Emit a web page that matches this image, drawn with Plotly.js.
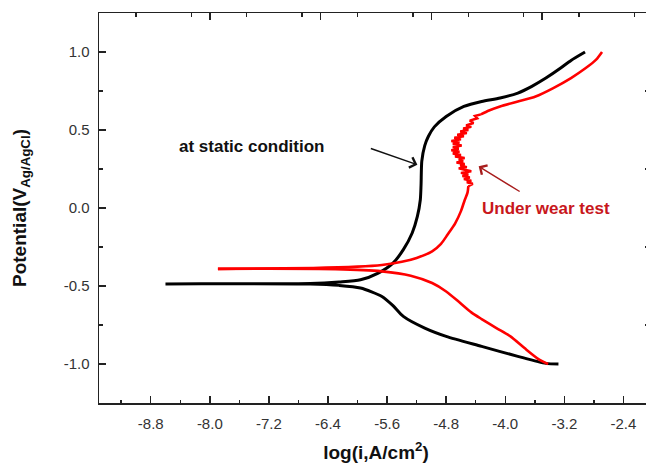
<!DOCTYPE html>
<html>
<head>
<meta charset="utf-8">
<script src="https://cdn.plot.ly/plotly-3.0.1.min.js"></script>
<style>
html,body{margin:0;padding:0;overflow:hidden;background:#fff;width:646px;height:463px;}
#chart{width:653px;height:463px;}
</style>
</head>
<body>
<div id="chart"></div>
<script>
// Static condition (black): cathodic branch (from -1.0 V toward Ecorr), then anodic branch
const staticCathX = [-3.28, -3.45, -3.83, -4.32, -4.80, -5.09, -5.38, -5.52, -5.67, -5.96, -6.25, -6.64, -7.70, -8.60];
const staticCathY = [-1.000, -0.996, -0.951, -0.887, -0.823, -0.770, -0.695, -0.626, -0.567, -0.513, -0.496, -0.487, -0.485, -0.487];
const staticAnodX = [-8.60, -7.70, -6.64, -6.25, -5.96, -5.72, -5.52, -5.38, -5.26, -5.19, -5.15, -5.14, -5.13, -5.09, -5.04, -4.96, -4.80, -4.56, -4.32, -4.07, -3.83, -3.64, -3.45, -3.25, -3.11, -2.92];
const staticAnodY = [-0.487, -0.485, -0.484, -0.474, -0.460, -0.417, -0.353, -0.267, -0.160, -0.054, 0.053, 0.150, 0.300, 0.400, 0.460, 0.520, 0.587, 0.651, 0.683, 0.705, 0.737, 0.780, 0.833, 0.897, 0.946, 1.000];

// Under wear test (red): cathodic branch, then anodic branch in three parts (smooth, noisy, smooth)
const wearCathX = [-3.42, -3.54, -3.74, -3.93, -4.12, -4.32, -4.46, -4.61, -4.80, -4.99, -5.28, -5.67, -6.30, -7.89];
const wearCathY = [-1.000, -0.972, -0.898, -0.823, -0.770, -0.712, -0.669, -0.609, -0.535, -0.481, -0.434, -0.406, -0.392, -0.390];
const wearLowX = [-7.89, -6.60, -6.00, -5.67, -5.40, -5.20, -4.99, -4.87, -4.78, -4.68, -4.60, -4.55, -4.51, -4.50];
const wearLowY = [-0.390, -0.385, -0.376, -0.365, -0.345, -0.320, -0.278, -0.230, -0.170, -0.100, -0.020, 0.050, 0.100, 0.140];
const wearNoiseX = [-4.50, -4.44, -4.52, -4.46, -4.56, -4.48, -4.58, -4.50, -4.60, -4.46, -4.55, -4.63, -4.52, -4.61, -4.55, -4.66, -4.57, -4.63, -4.55, -4.68, -4.60, -4.71, -4.62, -4.73, -4.63, -4.71, -4.59, -4.71, -4.62, -4.73, -4.60, -4.69, -4.56, -4.65, -4.52, -4.61, -4.50, -4.57, -4.46, -4.53, -4.43, -4.48, -4.38, -4.41, -4.33];
const wearNoiseY = [0.140, 0.155, 0.165, 0.175, 0.185, 0.195, 0.205, 0.215, 0.225, 0.235, 0.245, 0.255, 0.262, 0.272, 0.282, 0.292, 0.300, 0.310, 0.320, 0.330, 0.340, 0.350, 0.360, 0.370, 0.380, 0.390, 0.400, 0.410, 0.420, 0.430, 0.440, 0.450, 0.460, 0.470, 0.480, 0.490, 0.500, 0.510, 0.520, 0.530, 0.545, 0.560, 0.575, 0.590, 0.600];
const wearHighX = [-4.33, -4.22, -4.07, -3.83, -3.59, -3.35, -3.11, -2.91, -2.77, -2.69];
const wearHighY = [0.600, 0.625, 0.651, 0.683, 0.715, 0.769, 0.833, 0.897, 0.951, 1.000];

// Tick labels
const xTickVals = [-8.8, -8.0, -7.2, -6.4, -5.6, -4.8, -4.0, -3.2, -2.4];
const xTickText = ['-8.8', '-8.0', '-7.2', '-6.4', '-5.6', '-4.8', '-4.0', '-3.2', '-2.4'];
const yTickVals = [-1.0, -0.5, 0.0, 0.5, 1.0];
const yTickText = ['-1.0', '-0.5', '0.0', '0.5', '1.0'];

const xTitle = 'log(i,A/cm<sup>2</sup>)';
const yTitle = 'Potential(V<sub>Ag/AgCl</sub>)';
const staticLabel = 'at static condition';
const wearLabel = 'Under wear test';

const font = 'Liberation Sans, Arial, sans-serif';
const red = '#ff0000';

const traces = [
  {x: staticCathX.concat(staticAnodX), y: staticCathY.concat(staticAnodY), mode: 'lines',
   line: {color: '#000000', width: 3, shape: 'spline', smoothing: 0.7}, hoverinfo: 'skip', showlegend: false},
  {x: wearCathX, y: wearCathY, mode: 'lines',
   line: {color: red, width: 2.6, shape: 'spline', smoothing: 0.7}, hoverinfo: 'skip', showlegend: false},
  {x: wearLowX, y: wearLowY, mode: 'lines',
   line: {color: red, width: 2.6, shape: 'spline', smoothing: 0.7}, hoverinfo: 'skip', showlegend: false},
  {x: wearNoiseX, y: wearNoiseY, mode: 'lines',
   line: {color: red, width: 2.5}, hoverinfo: 'skip', showlegend: false},
  {x: wearHighX, y: wearHighY, mode: 'lines',
   line: {color: red, width: 2.6, shape: 'spline', smoothing: 0.7}, hoverinfo: 'skip', showlegend: false},
  {x: [], y: [], xaxis: 'x2', yaxis: 'y2', mode: 'lines', hoverinfo: 'skip', showlegend: false}
];

const axLine = '#222222';
const layout = {
  width: 653, height: 463,
  margin: {l: 99, r: 0, t: 13, b: 60},
  paper_bgcolor: '#ffffff', plot_bgcolor: '#ffffff',
  showlegend: false,
  xaxis: {
    range: [-9.5, -2.0], tickmode: 'array', tickvals: xTickVals, ticktext: xTickText,
    ticks: 'inside', ticklen: 7, tickwidth: 1.5, tickcolor: axLine,
    minor: {dtick: 0.4, tick0: -8.8, ticks: 'inside', ticklen: 3.5, tickwidth: 1.5, tickcolor: axLine},
    showline: true, linecolor: axLine, linewidth: 1.5, showgrid: false, zeroline: false,
    tickfont: {family: font, size: 15, color: '#333333'}, ticklabelstandoff: 6,
    title: {text: xTitle, font: {family: font, size: 19, color: '#111111', weight: 'bold'}, standoff: 15}
  },
  yaxis: {
    range: [-1.25, 1.25], tickmode: 'array', tickvals: yTickVals, ticktext: yTickText,
    ticks: 'inside', ticklen: 7, tickwidth: 1.5, tickcolor: axLine,
    minor: {dtick: 0.25, tick0: 0, ticks: 'inside', ticklen: 3.5, tickwidth: 1.5, tickcolor: axLine},
    showline: true, linecolor: axLine, linewidth: 1.5, showgrid: false, zeroline: false,
    tickfont: {family: font, size: 15, color: '#333333'}, ticklabelstandoff: 5,
    title: {text: yTitle, font: {family: font, size: 19, color: '#111111', weight: 'bold'}, standoff: 32}
  },
  xaxis2: {
    overlaying: 'x', side: 'top', anchor: 'y2', range: [-9.5, -2.0],
    tick0: -8.0, dtick: 1.5, ticks: 'inside', ticklen: 7, tickwidth: 1.5, tickcolor: axLine,
    minor: {dtick: 0.75, ticks: 'inside', ticklen: 3.5, tickwidth: 1.5, tickcolor: axLine},
    showticklabels: false, showline: true, linecolor: axLine, linewidth: 1.5, showgrid: false, zeroline: false
  },
  yaxis2: {
    overlaying: 'y', side: 'right', anchor: 'x2', range: [-1.25, 1.25],
    tick0: 0.25, dtick: 0.5, ticks: 'inside', ticklen: 8, tickwidth: 1.5, tickcolor: axLine,
    showticklabels: false, showline: true, linecolor: axLine, linewidth: 1.5, showgrid: false, zeroline: false
  },
  annotations: [
    {x: -7.43, y: 0.393, xref: 'x', yref: 'y', text: staticLabel, showarrow: false,
     font: {family: font, size: 17, color: '#111111', weight: 'bold'}},
    {x: -3.45, y: 0.0, xref: 'x', yref: 'y', text: wearLabel, showarrow: false,
     font: {family: font, size: 17, color: '#c8171c', weight: 'bold'}},
    {x: -5.19, y: 0.277, ax: -5.84, ay: 0.385, xref: 'x', yref: 'y', axref: 'x', ayref: 'y', text: '',
     showarrow: true, arrowhead: 4, arrowsize: 1.5, arrowwidth: 1.4, arrowcolor: '#111111'},
    {x: -4.36, y: 0.267, ax: -3.785, ay: 0.10, xref: 'x', yref: 'y', axref: 'x', ayref: 'y', text: '',
     showarrow: true, arrowhead: 4, arrowsize: 1.5, arrowwidth: 1.4, arrowcolor: '#a81c1c'}
  ]
};

Plotly.newPlot('chart', traces, layout, {staticPlot: true, displayModeBar: false});
</script>
</body>
</html>
